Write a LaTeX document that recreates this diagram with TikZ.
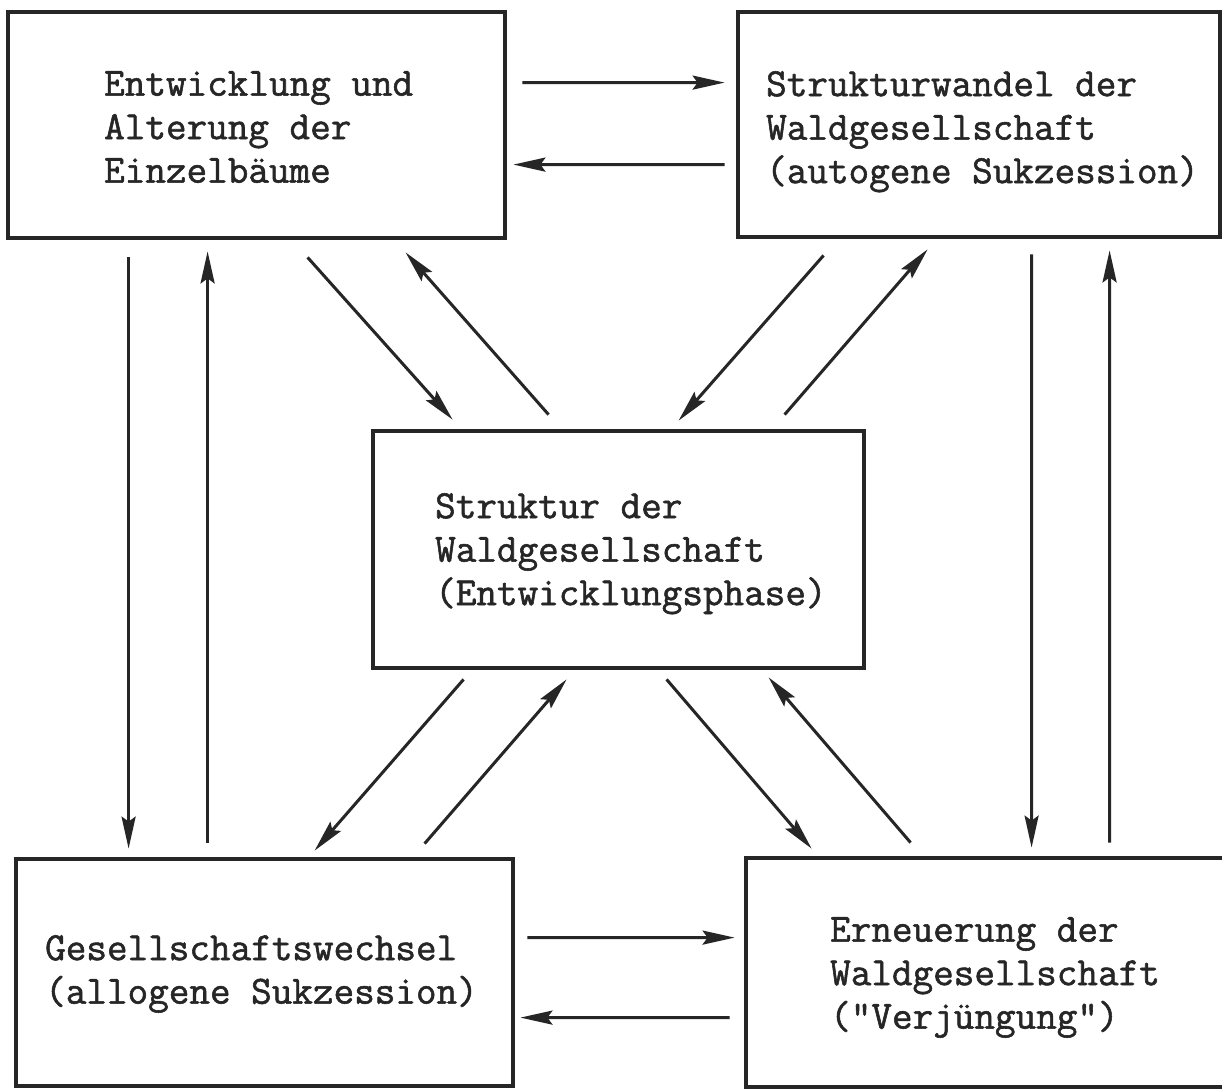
\documentclass[tikz,border=0pt]{standalone}
\usepackage{fontspec}
\newfontfamily\typewriter{Latin Modern Mono}[FakeBold=1.4]
\usetikzlibrary{arrows.meta,calc}
\definecolor{ink}{gray}{0.15}
\tikzset{
  box/.style={draw=ink, line width=4.8bp, rectangle, inner sep=0pt},
  conn/.style={draw=ink, line width=3bp, -{Stealth[length=32bp,width=14bp,inset=5bp]}},
  lbl/.style={text=ink, font=\fontsize{40bp}{43.5bp}\selectfont\typewriter, align=left, inner sep=0pt, anchor=north west},
}
\begin{document}
\begin{tikzpicture}[x=1bp,y=-1bp]
\useasboundingbox (0,0) rectangle (1222,1089);
\clip (0,0) rectangle (1222,1089);
\fill[white] (0,0) rectangle (1222,1089);

% boxes
\node[box, minimum width=497bp, minimum height=226bp] (tl) at (256.5,125) {};
\node[box, minimum width=482bp, minimum height=225bp] (tr) at (979,124.5) {};
\node[box, minimum width=491bp, minimum height=237bp] (c) at (618.5,549.5) {};
\node[box, minimum width=497bp, minimum height=227bp] (bl) at (264.5,972.5) {};
\node[box, minimum width=514bp, minimum height=229bp] (br) at (1003,972.5) {};

% texts
\node[lbl] (tlt) at (104,71) {Entwicklung und\\Alterung der\\Einzelbäume};
\node[lbl] (trt) at (766,71) {Strukturwandel der\\Waldgesellschaft\\(autogene Sukzession)};
\node[lbl] (ct) at (435,493) {Struktur der\\Waldgesellschaft\\(Entwicklungsphase)};
\node[lbl] (blt) at (45,935) {Gesellschaftswechsel\\(allogene Sukzession)};
\node[lbl] (brt) at (830,917) {Erneuerung der\\Waldgesellschaft\\("Verjüngung")};

% horizontal connectors
\draw[conn] ($(tl.north east)+(15,73)$) -- ($(tr.north west)+(-11,73)$);
\draw[conn] ($(tr.north west)+(-11,155)$) -- ($(tl.north east)+(6,155)$);
\draw[conn] ($(bl.north east)+(12,81)$) -- ($(br.north west)+(-9,82)$);
\draw[conn] ($(br.north west)+(-14,162)$) -- ($(bl.north east)+(5,161)$);

% vertical connectors
\draw[conn] ($(tl.south west)+(123,17)$) -- ($(bl.north west)+(115,-8)$);
\draw[conn] ($(bl.north west)+(194,-14)$) -- ($(tl.south west)+(202,11)$);
\draw[conn] ($(tr.south west)+(296,15)$) -- ($(br.north west)+(288,-8)$);
\draw[conn] ($(br.north west)+(366,-13)$) -- ($(tr.south west)+(374,11)$);

% diagonal connectors
\draw[conn] ($(tl.south west)+(302,17)$) -- ($(c.north west)+(82,-9)$);
\draw[conn] ($(c.north west)+(178,-14)$) -- ($(tl.south west)+(400,12)$);
\draw[conn] ($(tr.south west)+(88,16)$) -- ($(c.north west)+(308,-8)$);
\draw[conn] ($(c.north west)+(414,-14)$) -- ($(tr.south west)+(192,10)$);
\draw[conn] ($(c.south west)+(93,9)$) -- ($(bl.north west)+(301,-6)$);
\draw[conn] ($(bl.north west)+(411,-13)$) -- ($(c.south west)+(196,9)$);
\draw[conn] ($(c.south west)+(296,9)$) -- ($(br.north west)+(68,-7)$);
\draw[conn] ($(br.north west)+(167,-13)$) -- ($(c.south west)+(398,7)$);
\end{tikzpicture}
\end{document}
